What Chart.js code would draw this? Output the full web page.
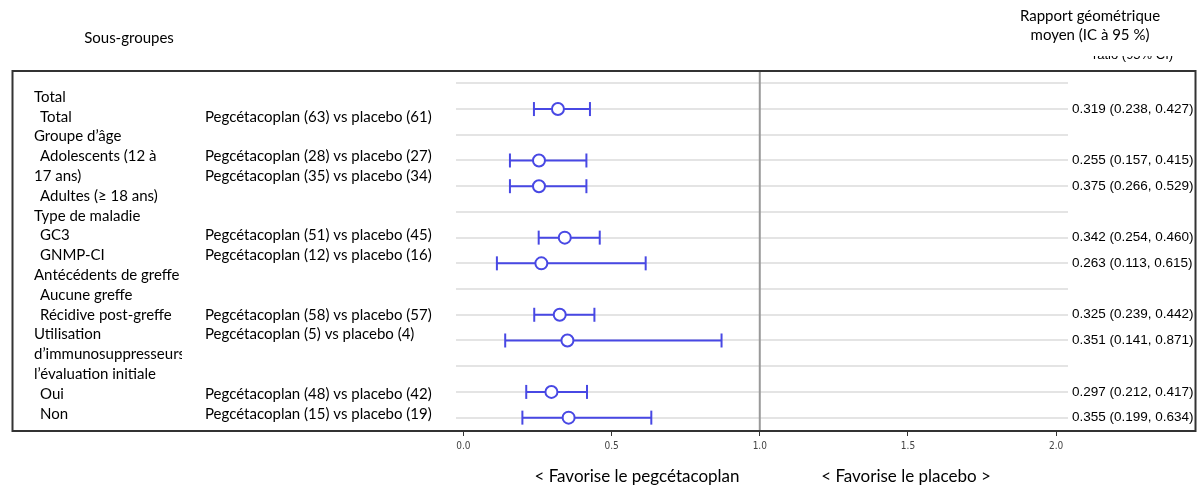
<!DOCTYPE html>
<html>
<head>
<meta charset="utf-8">
<script src="https://cdn.jsdelivr.net/npm/chart.js@4.4.1/dist/chart.umd.min.js"></script>
<style>
  body { margin: 0; background: #fff; }
</style>
</head>
<body>
<canvas id="forestChart" width="1202" height="492"></canvas>
<script>
// sous-groupes (colonne de gauche), une entrée par ligne de texte
const leftLines = [
  "Total", " Total", "Groupe d’âge", " Adolescents (12 à", "17 ans)", " Adultes (≥ 18 ans)",
  "Type de maladie", " GC3", " GNMP-CI", "Antécédents de greffe", " Aucune greffe",
  " Récidive post-greffe", "Utilisation", "d’immunosuppresseurs à", "l’évaluation initiale",
  " Oui", " Non",
];

// effectifs par comparaison
const nPegce = [63, 28, 35, 51, 12, 58, 5, 48, 15];
const nPlacebo = [61, 27, 34, 45, 16, 57, 4, 42, 19];
const textLine = [1, 3, 4, 7, 8, 11, 12, 15, 16]; // ligne de texte de la colonne du milieu
const plotRow = [1, 3, 4, 6, 7, 9, 10, 12, 13]; // rangée dans le graphique

// valeurs tracées
const estimate = [0.319, 0.255, 0.255, 0.342, 0.263, 0.325, 0.351, 0.297, 0.355];
const lowerCI = [0.238, 0.157, 0.157, 0.254, 0.113, 0.239, 0.141, 0.212, 0.199];
const upperCI = [0.427, 0.415, 0.415, 0.460, 0.615, 0.442, 0.871, 0.417, 0.634];

// valeurs affichées dans la colonne de droite
const gmrText = ["0.319", "0.255", "0.375", "0.342", "0.263", "0.325", "0.351", "0.297", "0.355"];
const lowText = ["0.238", "0.157", "0.266", "0.254", "0.113", "0.239", "0.141", "0.212", "0.199"];
const highText = ["0.427", "0.415", "0.529", "0.460", "0.615", "0.442", "0.871", "0.417", "0.634"];

const xTicks = [0, 0.5, 1.0, 1.5, 2.0];
const nRows = 14;

const blue = "#4848e4";
const textFont = "Lato, 'Open Sans', sans-serif";
const numFont = "'Liberation Sans', Arial, sans-serif";

const whiskers = [];
plotRow.forEach((row, i) => {
  whiskers.push({ x: lowerCI[i], y: row });
  whiskers.push({ x: upperCI[i], y: row });
  whiskers.push({ x: null, y: null });
});

const forestText = {
  id: "forestText",
  beforeDatasetsDraw(chart) {
    const { ctx, chartArea, scales } = chart;
    const x1 = scales.x.getPixelForValue(1);
    ctx.save();
    ctx.strokeStyle = "#999";
    ctx.lineWidth = 2;
    ctx.beginPath();
    ctx.moveTo(x1, chartArea.top);
    ctx.lineTo(x1, chartArea.bottom);
    ctx.stroke();
    ctx.restore();
  },
  afterDraw(chart) {
    const { ctx, chartArea, scales } = chart;
    const lineTop = chartArea.top + 26;
    const lineH = 19.8;
    ctx.save();

    // cadre
    ctx.strokeStyle = "#333";
    ctx.lineWidth = 2;
    ctx.strokeRect(12.5, chartArea.top, chart.width - 19, chartArea.bottom - chartArea.top);

    // en-têtes
    ctx.fillStyle = "#000";
    ctx.textBaseline = "middle";
    ctx.textAlign = "center";
    ctx.font = "15px " + textFont;
    ctx.fillText("Sous-groupes", 129, 38);
    ctx.fillText("Rapport géométrique", 1090, 16);
    ctx.fillText("moyen (IC à 95 %)", 1090, 35);

    // texte anglais à moitié masqué
    ctx.save();
    ctx.beginPath();
    ctx.rect(1040, 56, 160, 10);
    ctx.clip();
    ctx.font = "13px " + numFont;
    ctx.fillText("ratio (95% CI)", 1133, 55);
    ctx.restore();

    // colonne de gauche
    ctx.textAlign = "left";
    ctx.save();
    ctx.beginPath();
    ctx.rect(0, chartArea.top, 182, chartArea.bottom - chartArea.top);
    ctx.clip();
    leftLines.forEach((txt, i) => {
      const indent = txt.startsWith(" ") ? 6 : 0;
      ctx.fillText(txt.trim(), 34 + indent, lineTop + i * lineH);
    });
    ctx.restore();

    // colonne du milieu
    textLine.forEach((li, i) => {
      ctx.fillText(`Pegcétacoplan (${nPegce[i]}) vs placebo (${nPlacebo[i]})`, 205, lineTop + li * lineH);
    });

    // colonne de droite
    ctx.font = "13.5px " + numFont;
    plotRow.forEach((row, i) => {
      const y = scales.y.getPixelForValue(row);
      ctx.fillText(`${gmrText[i]} (${lowText[i]}, ${highText[i]})`, 1072, y);
    });

    // libellés sous l'axe
    ctx.textAlign = "center";
    ctx.font = "17px " + textFont;
    ctx.fillText("< Favorise le pegcétacoplan", 637, 477);
    ctx.fillText("< Favorise le placebo >", 906, 477);

    ctx.restore();
  },
};

new Chart(document.getElementById("forestChart"), {
  type: "scatter",
  data: {
    datasets: [
      {
        label: "estimate",
        data: estimate.map((v, i) => ({ x: v, y: plotRow[i] })),
        pointStyle: "circle",
        pointRadius: 6,
        pointHoverRadius: 6,
        backgroundColor: "#fff",
        borderColor: blue,
        borderWidth: 2,
      },
      {
        type: "line",
        label: "ci",
        data: whiskers,
        showLine: true,
        spanGaps: false,
        borderColor: blue,
        borderWidth: 2,
        pointStyle: "line",
        rotation: 90,
        pointRadius: 7,
        pointHoverRadius: 7,
        pointBorderColor: blue,
        pointBorderWidth: 2,
      },
    ],
  },
  options: {
    responsive: false,
    animation: false,
    events: [],
    layout: { padding: { left: 456, right: 134, top: 71, bottom: 31 } },
    plugins: {
      legend: { display: false },
      tooltip: { enabled: false },
    },
    scales: {
      x: {
        type: "linear",
        min: -0.025,
        max: 2.04,
        afterBuildTicks: (scale) => {
          scale.ticks = xTicks.map((v) => ({ value: v }));
        },
        afterFit: (scale) => {
          scale.height = 30;
        },
        border: { display: false },
        grid: {
          drawOnChartArea: false,
          drawTicks: true,
          tickLength: 5,
          color: "#333",
        },
        ticks: {
          padding: 4,
          color: "#444",
          font: { family: "'Liberation Sans Narrow', 'DejaVu Sans Condensed', sans-serif", size: 10 },
          callback: (v) => Number(v).toFixed(1),
        },
      },
      y: {
        type: "linear",
        reverse: true,
        min: -0.48,
        max: nRows - 0.48,
        afterBuildTicks: (scale) => {
          scale.ticks = Array.from({ length: nRows }, (_, i) => ({ value: i }));
        },
        afterFit: (scale) => {
          scale.width = 0;
        },
        border: { display: false },
        grid: { color: "#e4e4e4", lineWidth: 2, drawTicks: false },
        ticks: { display: false },
      },
    },
  },
  plugins: [forestText],
});
</script>
</body>
</html>
